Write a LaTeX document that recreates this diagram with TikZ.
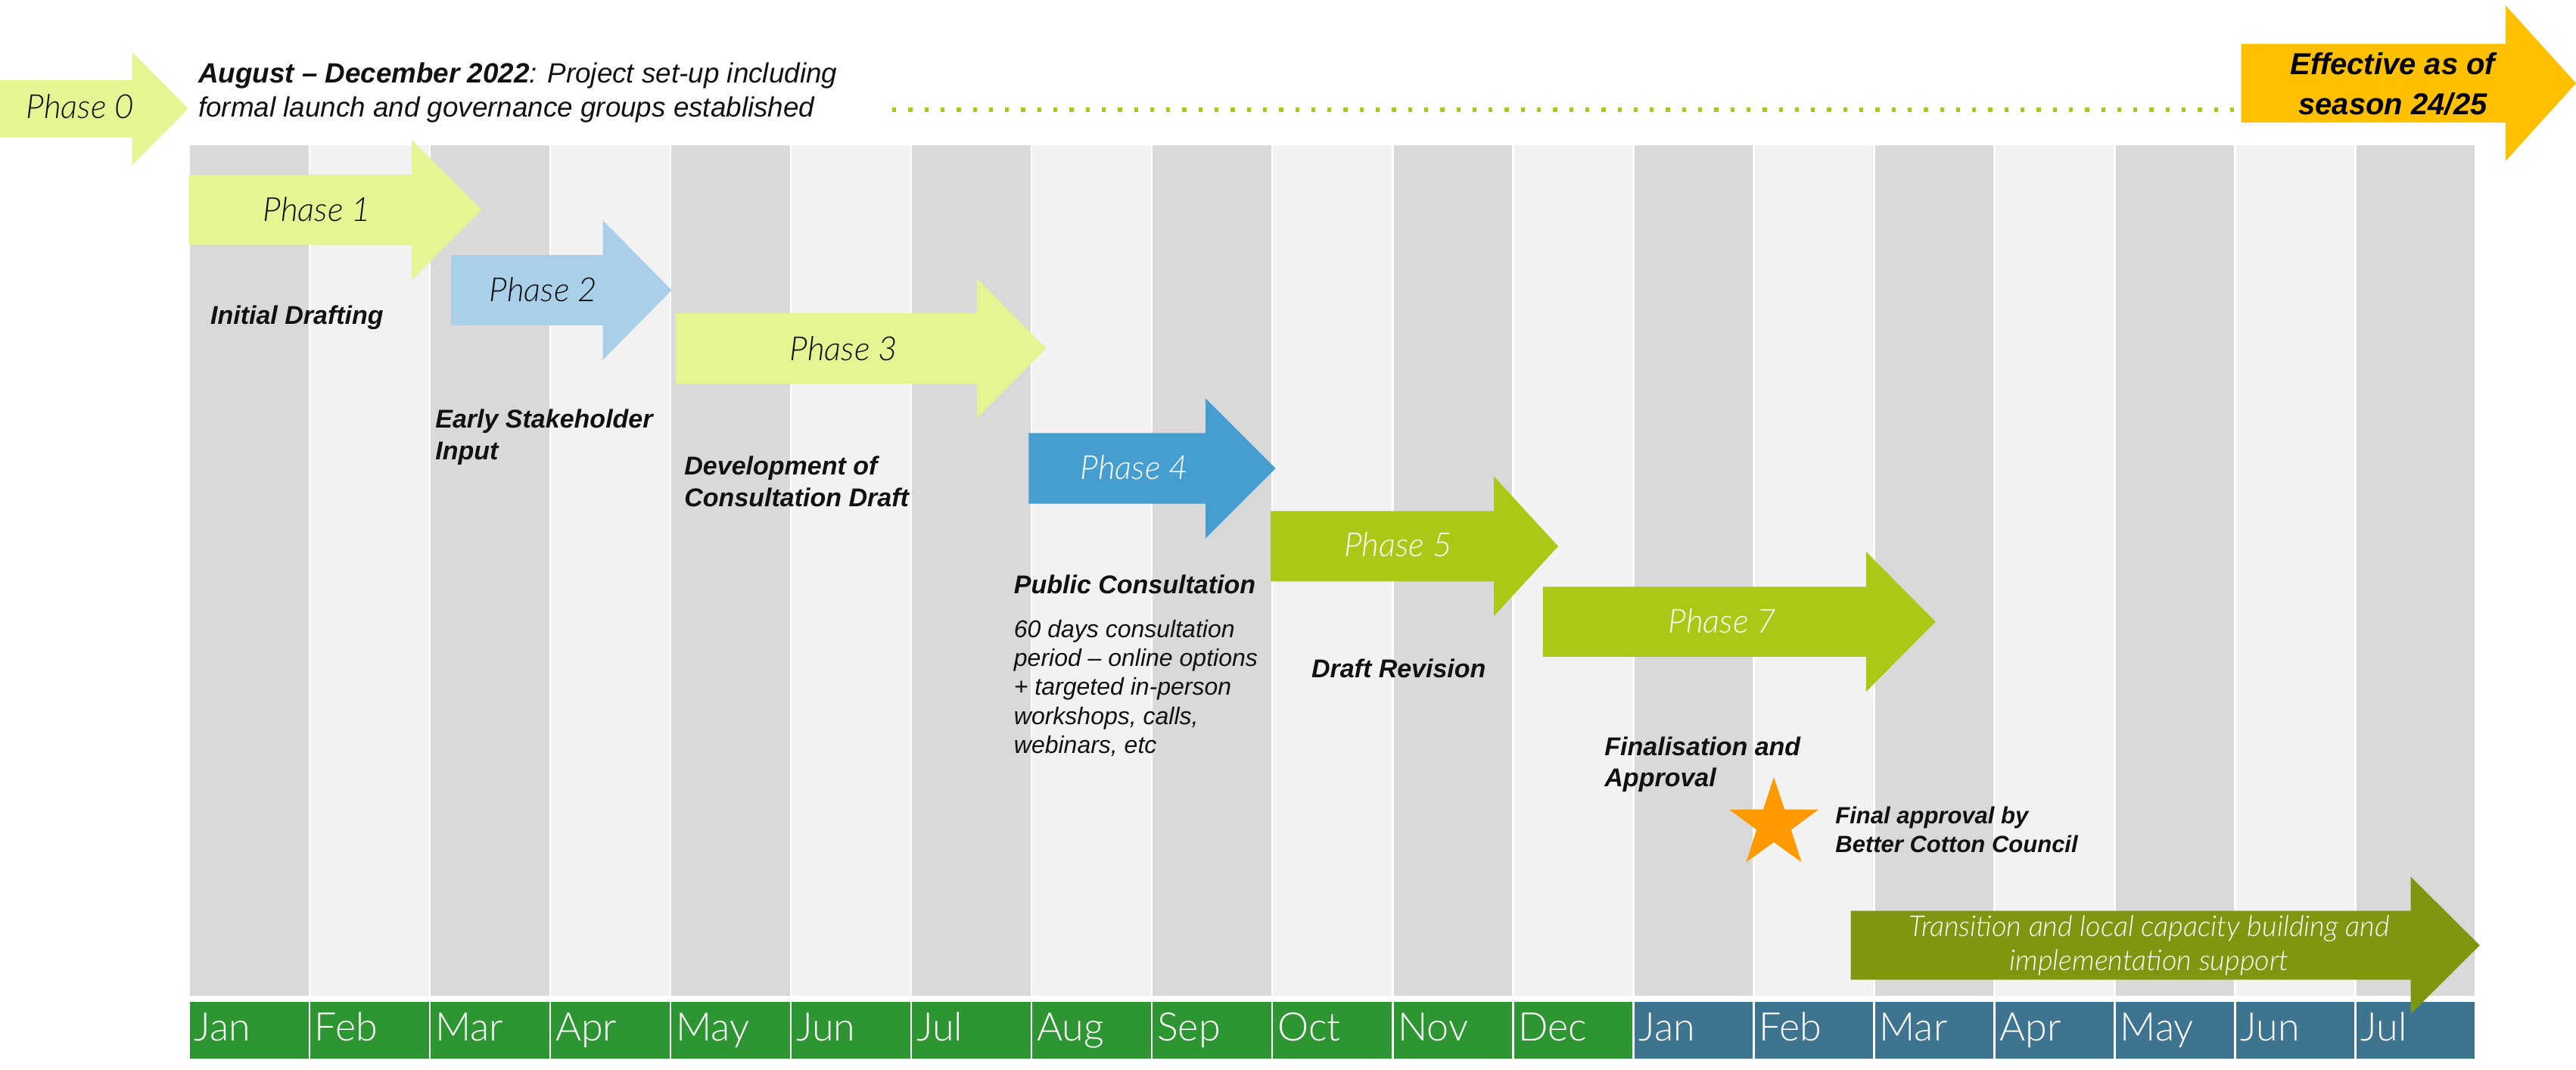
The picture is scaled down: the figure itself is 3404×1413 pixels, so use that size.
\documentclass[tikz,border=0pt]{standalone}
\usepackage{fontspec}
\setmainfont{Liberation Sans}
\newfontfamily\lightfont{Lato}[UprightFont=* Light, ItalicFont=* Light Italic]
\definecolor{pale}{HTML}{E5F593}
\definecolor{paleblue}{HTML}{AACFE9}
\definecolor{midblue}{HTML}{459ECF}
\definecolor{lime}{HTML}{AAC815}
\definecolor{olive}{HTML}{7F9710}
\definecolor{mgreen}{HTML}{2D9633}
\definecolor{mblue}{HTML}{3F7490}
\definecolor{gdark}{HTML}{D9D9D9}
\definecolor{glight}{HTML}{F2F2F2}
\definecolor{gold}{HTML}{FFC000}
\definecolor{starorange}{HTML}{FF9900}
\definecolor{dotgreen}{HTML}{A9C818}
\definecolor{ink}{HTML}{111111}
\newcommand\ml[2]{\begin{tabular}[t]{@{}#1@{}}#2\end{tabular}}
% #1 fill, #2 x left, #3 x neck, #4 x tip, #5 y centre, #6 body half height, #7 head half height
\newcommand\blockarrow[7]{%
  \fill[#1] (#2,#5-#6) -- (#3,#5-#6) -- (#3,#5-#7) -- (#4,#5) -- (#3,#5+#7)
    -- (#3,#5+#6) -- (#2,#5+#6) -- cycle;}
\tikzset{
  phaselbl/.style={anchor=base, inner sep=0pt, text=ink, font=\lightfont\itshape\fontsize{22}{26}\selectfont},
  phaselblw/.style={phaselbl, text=white},
  boldlbl/.style={anchor=base west, inner sep=0pt, text=ink, font=\bfseries\itshape\fontsize{17}{21}\selectfont},
  desclbl/.style={anchor=base west, inner sep=0pt, text=ink, font=\itshape\fontsize{16}{19.1}\selectfont},
  monthlbl/.style={anchor=base west, inner sep=0pt, text=white, font=\lightfont\fontsize{26}{30}\selectfont},
}
\begin{document}
\begin{tikzpicture}[x=0.5pt, y=-0.5pt]
\useasboundingbox (0,0) rectangle (3404,1413);
% background columns
\foreach \i in {0,2,...,18}{
  \pgfmathsetmacro\xa{251+159.05*\i}
  \fill[gdark] (\xa,192) rectangle (\xa+156.5,1316);
}
\foreach \i in {1,3,...,17}{
  \pgfmathsetmacro\xa{251+159.05*\i}
  \fill[glight] (\xa,192) rectangle (\xa+156.5,1316);
}
% month bar
\foreach \i/\m in {0/Jan,1/Feb,2/Mar,3/Apr,4/May,5/Jun,6/Jul,7/Aug,8/Sep,9/Oct,10/Nov,11/Dec}{
  \pgfmathsetmacro\xa{251+159.05*\i}
  \fill[mgreen] (\xa,1324) rectangle (\xa+156.5,1399);
  \node[monthlbl] (m\i) at (\xa+5.5,1375.7) {\m};
}
\foreach \i/\m in {12/Jan,13/Feb,14/Mar,15/Apr,16/May,17/Jun,18/Jul}{
  \pgfmathsetmacro\xa{251+159.05*\i}
  \fill[mblue] (\xa,1324) rectangle (\xa+156.5,1399);
  \node[monthlbl] (m\i) at (\xa+5.5,1375.7) {\m};
}
% dotted line
\coordinate (dotstart) at (1179,145);
\coordinate (dotend) at (2958,145);
\draw[dotgreen, line width=2.65pt, dash pattern=on 2.65pt off 8pt] (dotstart) -- (dotend);
% arrows
\blockarrow{pale}{0}{174.5}{248.7}{143.5}{37.7}{75}
\blockarrow{pale}{249.4}{544}{636.6}{277.3}{46.4}{92.5}
\blockarrow{paleblue}{596}{796.5}{887.5}{383.4}{46.4}{92.4}
\blockarrow{pale}{893}{1291}{1382.5}{460.4}{46.6}{92.1}
\blockarrow{midblue}{1359.4}{1593}{1685.5}{619}{46.6}{92.6}
\blockarrow{lime}{1679}{1974}{2059}{721.9}{46.5}{92.4}
\blockarrow{lime}{2038.8}{2465.8}{2557.6}{821.6}{46.3}{92.6}
\blockarrow{gold}{2961.7}{3311}{3404}{110}{51.8}{102.8}
\blockarrow{olive}{2445.5}{3185.6}{3276.8}{1249.2}{45.5}{90.6}
% star
\fill[starorange] (2344,1089) +(-90:62) -- +(-54:24) -- +(-18:62) -- +(18:24) -- +(54:62)
  -- +(90:24) -- +(126:62) -- +(162:24) -- +(198:62) -- +(234:24) -- cycle;
% phase labels
\node[phaselbl] (p0) at (106,156.7) {Phase 0};
\node[phaselbl] (p1) at (419,292.3) {Phase 1};
\node[phaselbl] (p2) at (718,398.3) {Phase 2};
\node[phaselbl] (p3) at (1115,476) {Phase 3};
\node[phaselblw] (p4) at (1499,633.5) {Phase 4};
\node[phaselblw] (p5) at (1847.6,735.9) {Phase 5};
\node[phaselblw] (p7) at (2276,836) {Phase 7};
% top text
\node[anchor=base west, inner sep=0pt, text=ink, font=\itshape\fontsize{18.4}{22.5}\selectfont] (setup) at (261.7,110)
  {\ml{l}{\textbf{August -- December 2022}: Project set-up including\\formal launch and governance groups established}};
% effective
\node[anchor=base, inner sep=0pt, text=black, font=\bfseries\itshape\fontsize{20}{26}\selectfont] (eff) at (3162,99)
  {\ml{c}{Effective as of\\season 24/25}};
% phase descriptions
\node[boldlbl] (d1) at (277.7,428) {Initial Drafting};
\node[boldlbl] (d2) at (575,565.7) {\ml{l}{Early Stakeholder\\Input}};
\node[boldlbl] (d3) at (904,627.7) {\ml{l}{Development of\\Consultation Draft}};
\node[boldlbl] (d4) at (1339.5,784) {Public Consultation};
\node[desclbl] (d4b) at (1339.5,842.4) {\ml{l}{60 days consultation\\period -- online options\\+ targeted in-person\\workshops, calls,\\webinars, etc}};
\node[boldlbl] (d5) at (1732.6,895.8) {Draft Revision};
\node[boldlbl, font=\bfseries\itshape\fontsize{17}{20.5}\selectfont] (d7) at (2120,998) {\ml{l}{Finalisation and\\Approval}};
\node[boldlbl, font=\bfseries\itshape\fontsize{15.5}{19}\selectfont] (fa) at (2425,1088) {\ml{l}{Final approval by\\Better Cotton Council}};
% transition
\node[anchor=base, inner sep=0pt, text=white, font=\lightfont\itshape\fontsize{19}{22.5}\selectfont] (tr) at (2840,1237.7)
  {\ml{c}{Transition and local capacity building and\\implementation support}};
\end{tikzpicture}
\end{document}
